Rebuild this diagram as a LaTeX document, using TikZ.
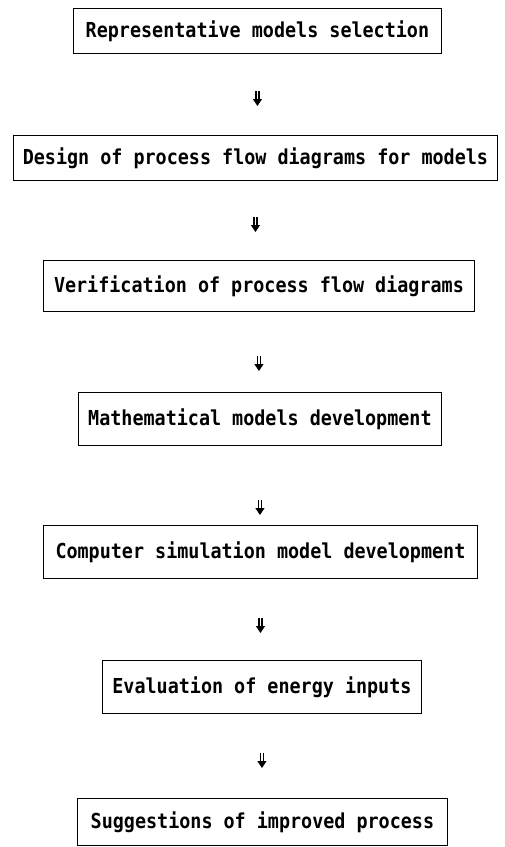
\documentclass[tikz,border=0pt]{standalone}
\usepackage{fontspec}
\usepackage{graphicx}
\setmonofont{DejaVu Sans Mono}
\usetikzlibrary{arrows.meta}

% step labels: bold mono, stretched a little upright
\newcommand{\steptext}[1]{\scalebox{1}[1.12]{#1}}

\tikzset{
  stepbox/.style={draw, line width=0.9pt, anchor=north west, inner sep=0pt,
    font=\ttfamily\bfseries\fontsize{18.4}{20}\selectfont, align=center},
  flowarrow/.style={double, double distance=1.8pt, line width=1.2pt,
    -{Triangle[width=9pt,length=7pt]}}
}

\begin{document}
\begin{tikzpicture}[x=1pt,y=1pt]
  \useasboundingbox (0,0) rectangle (504,-847);

  % process steps, placed by their top-left corners
  \node[stepbox, minimum width=368pt, minimum height=45pt] (b1) at (73,-8)
    {\steptext{Representative models selection}};
  \node[stepbox, minimum width=484pt, minimum height=45pt] (b2) at (13,-135)
    {\steptext{Design of process flow diagrams for models}};
  \node[stepbox, minimum width=431pt, minimum height=51pt] (b3) at (43,-260)
    {\steptext{Verification of process flow diagrams}};
  \node[stepbox, minimum width=363pt, minimum height=53pt] (b4) at (78,-392)
    {\steptext{Mathematical models development}};
  \node[stepbox, minimum width=434pt, minimum height=53pt] (b5) at (43,-525)
    {\steptext{Computer simulation model development}};
  \node[stepbox, minimum width=319pt, minimum height=53pt] (b6) at (102,-660)
    {\steptext{Evaluation of energy inputs}};
  \node[stepbox, minimum width=370pt, minimum height=47pt] (b7) at (77,-798)
    {\steptext{Suggestions of improved process}};

  % short double arrows floating in the gaps between steps
  \draw[flowarrow, shorten <=37pt, shorten >=29pt] (b1.south) -- (b1.south |- b2.north);
  \draw[flowarrow, shorten <=36pt, shorten >=28pt] (b2.south) -- (b2.south |- b3.north);
  \draw[flowarrow, shorten <=44pt, shorten >=21pt] (b3.south) -- (b3.south |- b4.north);
  \draw[flowarrow, shorten <=54pt, shorten >=10pt] (b4.south) -- (b4.south |- b5.north);
  \draw[flowarrow, shorten <=39pt, shorten >=27pt] (b5.south) -- (b5.south |- b6.north);
  \draw[flowarrow, shorten <=39pt, shorten >=30pt] (b6.south) -- (b6.south |- b7.north);
\end{tikzpicture}
\end{document}
